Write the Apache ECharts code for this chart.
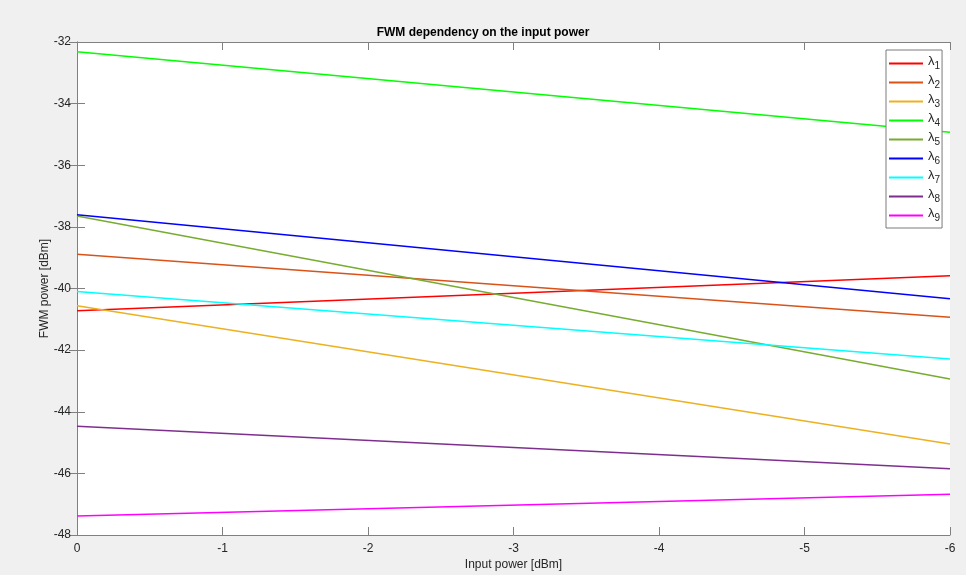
<!DOCTYPE html>
<html>
<head>
<meta charset="utf-8">
<script src="https://cdn.jsdelivr.net/npm/echarts@6/dist/echarts.min.js"></script>
<style>
  html, body { margin: 0; padding: 0; background: #f0f0f0; }
  #chart { width: 966px; height: 575px; }
</style>
</head>
<body>
<div id="chart"></div>
<script>
// Input power sweep endpoints [dBm]
const inputPower = [0, -6];

// FWM power [dBm] at each input power, per channel
const lambda1 = [-40.72, -39.59];
const lambda2 = [-38.89, -40.93];
const lambda3 = [-40.56, -45.05];
const lambda4 = [-32.32, -34.93];
const lambda5 = [-37.65, -42.94];
const lambda6 = [-37.61, -40.33];
const lambda7 = [-40.10, -42.29];
const lambda8 = [-44.47, -45.85];
const lambda9 = [-47.38, -46.68];

const seriesNames = ['1', '2', '3', '4', '5', '6', '7', '8', '9'];
const seriesValues = [lambda1, lambda2, lambda3, lambda4, lambda5, lambda6, lambda7, lambda8, lambda9];
const seriesColors = ['#ff0000', '#d95319', '#edb120', '#00ff00', '#77ac30', '#0000ff', '#00ffff', '#7e2f8e', '#ff00ff'];

const yTicks = { min: -48, max: -32, interval: 2 };
const xTicks = { min: -6, max: 0, interval: 1 };

const fontFamily = 'Liberation Sans, Arial, Helvetica, sans-serif';
const textColor = '#262626';
const axisColor = '#808080';

const chart = echarts.init(document.getElementById('chart'), null, { renderer: 'canvas' });

const series = seriesNames.map((n, i) => ({
  name: n,
  type: 'line',
  data: inputPower.map((x, k) => [x, seriesValues[i][k]]),
  showSymbol: false,
  symbol: 'none',
  lineStyle: { color: seriesColors[i], width: 1.5 },
  itemStyle: { color: seriesColors[i] },
  emphasis: { disabled: true },
  animation: false
}));

const mainAxisCommon = {
  axisLine: { show: true, lineStyle: { color: axisColor, width: 1 } },
  axisTick: { show: true, inside: true, length: 8, lineStyle: { color: axisColor } },
  splitLine: { show: false },
  axisLabel: { color: textColor, fontSize: 12, fontFamily: fontFamily }
};

const option = {
  backgroundColor: '#f0f0f0',
  animation: false,
  title: {
    text: 'FWM dependency on the input power',
    left: 'center',
    top: 22,
    textStyle: { fontSize: 12, fontWeight: 'bold', color: '#000', fontFamily: fontFamily }
  },
  grid: {
    left: 77, top: 42, right: 16, bottom: 40,
    outerBoundsMode: 'none',
    containLabel: false,
    show: true, backgroundColor: '#ffffff', borderWidth: 0
  },
  legend: {
    orient: 'vertical',
    left: 886,
    top: 50,
    padding: [5, 2, 4, 3],
    itemGap: 2,
    itemWidth: 34,
    itemHeight: 2,
    icon: 'rect',
    backgroundColor: '#ffffff',
    borderColor: '#7a7a7a',
    borderWidth: 1,
    borderRadius: 0,
    selectedMode: false,
    data: seriesNames.map((n, i) => ({ name: n, itemStyle: { color: seriesColors[i] } })),
    formatter: (name) => '{l|λ}{s|' + name + '}',
    textStyle: {
      fontFamily: fontFamily,
      color: textColor,
      padding: [0, 0, 0, 0],
      rich: {
        l: { fontSize: 13, color: textColor, fontFamily: fontFamily, lineHeight: 16, padding: [0, 0, 4, 0] },
        s: { fontSize: 10, color: textColor, fontFamily: fontFamily, lineHeight: 16, padding: [5, 0, 0, 0] }
      }
    }
  },
  xAxis: [
    Object.assign({}, mainAxisCommon, {
      type: 'value',
      inverse: true,
      min: xTicks.min, max: xTicks.max, interval: xTicks.interval,
      position: 'bottom',
      name: 'Input power [dBm]',
      nameLocation: 'middle',
      nameGap: 24,
      nameMoveOverlap: false,
      nameTextStyle: { color: textColor, fontSize: 12, fontFamily: fontFamily },
      axisLabel: { color: textColor, fontSize: 12, fontFamily: fontFamily, margin: 8 }
    }),
    {
      type: 'value',
      inverse: true,
      min: xTicks.min, max: xTicks.max, interval: xTicks.interval,
      position: 'top',
      axisLine: { show: true, lineStyle: { color: axisColor, width: 1 } },
      axisTick: { show: true, inside: true, length: 8, lineStyle: { color: axisColor } },
      axisLabel: { show: false },
      splitLine: { show: false }
    }
  ],
  yAxis: [
    Object.assign({}, mainAxisCommon, {
      type: 'value',
      min: yTicks.min, max: yTicks.max, interval: yTicks.interval,
      position: 'left',
      name: 'FWM power [dBm]',
      nameLocation: 'middle',
      nameGap: 26,
      nameMoveOverlap: false,
      nameRotate: 90,
      nameTextStyle: { color: textColor, fontSize: 12, fontFamily: fontFamily },
      axisLabel: { color: textColor, fontSize: 12, fontFamily: fontFamily, margin: 6 }
    }),
    {
      type: 'value',
      min: yTicks.min, max: yTicks.max, interval: yTicks.interval,
      position: 'right',
      axisLine: { show: true, lineStyle: { color: axisColor, width: 1 } },
      axisTick: { show: true, inside: true, length: 8, lineStyle: { color: axisColor } },
      axisLabel: { show: false },
      splitLine: { show: false }
    }
  ],
  series: series
};

chart.setOption(option);
</script>
</body>
</html>
